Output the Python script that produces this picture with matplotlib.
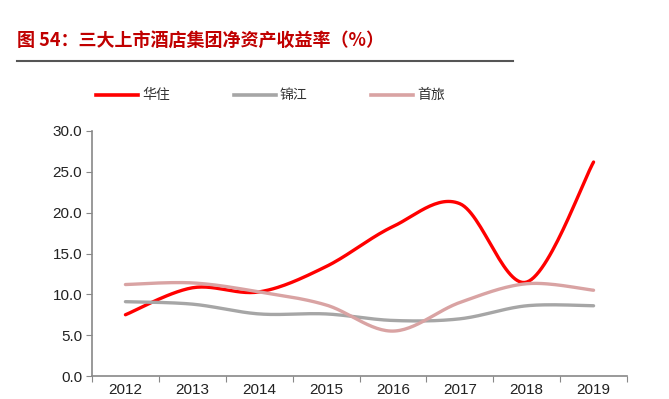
import numpy as np
import matplotlib
matplotlib.use("Agg")
import matplotlib.pyplot as plt
from matplotlib.lines import Line2D

years = ["2012", "2013", "2014", "2015", "2016", "2017", "2018", "2019"]
huazhu = [7.5, 10.8, 10.3, 13.4, 18.3, 21.1, 11.5, 26.2]
jinjiang = [9.1, 8.8, 7.6, 7.6, 6.8, 7.0, 8.6, 8.6]
shoulv = [11.2, 11.4, 10.3, 8.7, 5.5, 9.0, 11.3, 10.5]
series_names = ["华住", "锦江", "首旅"]
yticks = [0, 5, 10, 15, 20, 25, 30]

colors = ["#FF0000", "#A6A6A6", "#D9A3A3"]

plt.rcParams['font.family'] = ['Noto Sans CJK SC', 'DejaVu Sans']


def smooth(x, y, n=30):
    x = np.asarray(x, float)
    y = np.asarray(y, float)
    xs, ys = [], []
    m = len(x)
    for i in range(m - 1):
        p0 = np.array([x[max(i - 1, 0)], y[max(i - 1, 0)]])
        p1 = np.array([x[i], y[i]])
        p2 = np.array([x[i + 1], y[i + 1]])
        p3 = np.array([x[min(i + 2, m - 1)], y[min(i + 2, m - 1)]])
        c1 = p1 + (p2 - p0) / 6.0
        c2 = p2 - (p3 - p1) / 6.0
        t = np.linspace(0, 1, n)[:, None]
        pts = ((1 - t) ** 3) * p1 + 3 * ((1 - t) ** 2) * t * c1 + 3 * (1 - t) * t ** 2 * c2 + t ** 3 * p2
        if i > 0:
            pts = pts[1:]
        xs.extend(pts[:, 0])
        ys.extend(pts[:, 1])
    return np.array(xs), np.array(ys)


fig = plt.figure(figsize=(6.69, 3.99), dpi=100)

# Title
fig.text(17 / 669, 1 - 40 / 399, "图 54：三大上市酒店集团净资产收益率（%）",
         color="#C00000", fontsize=13, fontweight="bold", va="center", ha="left")
fig.add_artist(Line2D([17 / 669, 513 / 669], [1 - 61 / 399, 1 - 61 / 399],
                      color="#555555", linewidth=1.5, transform=fig.transFigure))

ax = fig.add_axes([92 / 669, 1 - 376 / 399, (627 - 92) / 669, (376 - 131) / 399])
x = np.arange(len(years))
for vals, c, name in zip([huazhu, jinjiang, shoulv], colors, series_names):
    sx, sy = smooth(x, vals)
    ax.plot(sx, sy, color=c, linewidth=2.4, solid_capstyle="round", label=name)

ax.set_xlim(-0.5, len(years) - 0.5)
ax.set_ylim(0, 30)
ax.set_yticks(yticks)
ax.set_yticklabels([f"{v:.1f}" for v in yticks], fontsize=11, color="#222222",
                   family=["Liberation Sans", "DejaVu Sans"])
ax.set_xticks(np.arange(-0.5, len(years), 1.0))
ax.set_xticklabels([])
ax.set_xticks(x, minor=True)
ax.set_xticklabels(years, minor=True, fontsize=11, color="#222222",
                   family=["Liberation Sans", "DejaVu Sans"])
ax.tick_params(axis="x", which="minor", length=0, pad=5)
ax.tick_params(axis="x", which="major", length=4, color="#888888", direction="out")
ax.tick_params(axis="y", length=4, color="#888888", direction="out", pad=3)
for s in ["top", "right"]:
    ax.spines[s].set_visible(False)
for s in ["left", "bottom"]:
    ax.spines[s].set_color("#888888")
    ax.spines[s].set_linewidth(1.2)

# Legend
leg_y = 1 - 95 / 399
starts = [96, 234, 371]
for st, c, name in zip(starts, colors, series_names):
    fig.add_artist(Line2D([st / 669, (st + 42) / 669], [leg_y, leg_y], color=c,
                          linewidth=2.6, transform=fig.transFigure))
    fig.text((st + 46) / 669, leg_y, name, fontsize=10, color="#333333",
             va="center", ha="left")

fig.savefig("out.png", dpi=100)
